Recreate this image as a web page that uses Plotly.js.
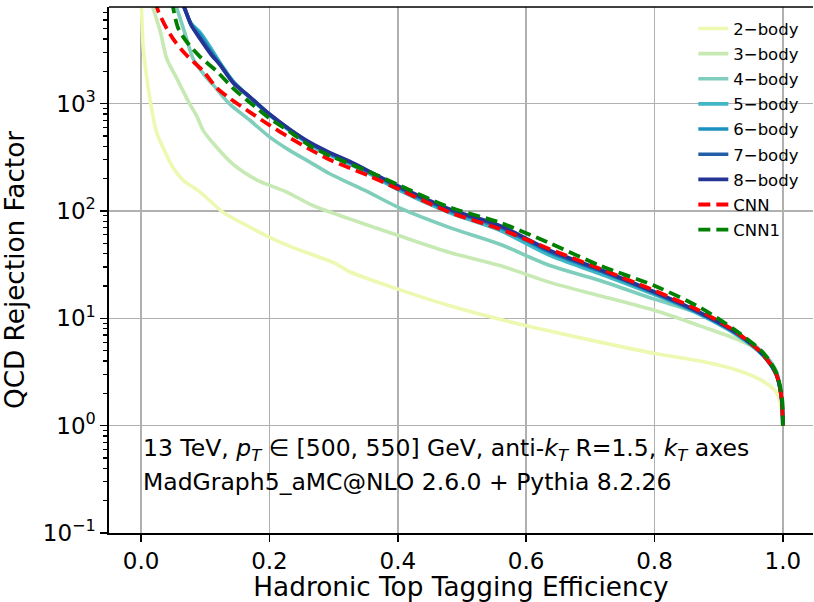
<!DOCTYPE html>
<html>
<head>
<meta charset="utf-8">
<script src="https://cdn.plot.ly/plotly-3.0.1.min.js"></script>
<style>html,body{margin:0;padding:0;background:#fff;}#chart{width:814px;height:602px;}</style>
</head>
<body>
<div id="chart"></div>
<script>
// ---- data ----
var names = ["2\u2212body","3\u2212body","4\u2212body","5\u2212body","6\u2212body","7\u2212body","8\u2212body","CNN","CNN1"];
var colors = ["#edf8b1","#c7e9b4","#7fcdbb","#41b6c4","#1d91c0","#225ea8","#253494","#ff0000","#008000"];

var eff2 = [0.0005,0.0035,0.014,0.024,0.035,0.048,0.066,0.092,0.128,0.165,0.2,0.237,0.3,0.326,0.4,0.481,0.559,0.637,0.715,0.801,0.871,0.928,0.969,0.99,0.999,1.0];
var rej2 = [9000,3250,1090,545,380,264,192,150,97,73,56.7,45.6,33,27,18.7,13.1,9.8,7.6,6.0,4.7,4.0,3.3,2.6,2.03,1.3,1.0];

var eff3 = [0.015,0.03,0.04,0.056,0.074,0.087,0.097,0.115,0.144,0.18,0.227,0.268,0.326,0.401,0.481,0.559,0.637,0.715,0.801,0.871,0.928,0.969,0.99,0.998,1.0];
var rej3 = [9000,4680,2630,1700,1040,760,560,409,270,195,150,112,84,59,41,31,21.6,16.2,11.8,8.5,6.4,4.8,3.1,1.8,1.0];

var eff4 = [0.052,0.058,0.07,0.081,0.1,0.113,0.128,0.139,0.17,0.2,0.232,0.263,0.294,0.326,0.352,0.401,0.481,0.559,0.637,0.715,0.801,0.871,0.928,0.969,0.99,0.998,1.0];
var rej4 = [9000,7000,4200,2630,1800,1480,1150,980,696,490,365,285,222,180,152,108,70,49,31,22.5,15,11,7.2,4.8,3.2,1.8,1.0];

var effBody = [0.063,0.068,0.078,0.092,0.11,0.123,0.144,0.17,0.2,0.232,0.263,0.294,0.326,0.357,0.401,0.481,0.559,0.637,0.715,0.801,0.871,0.928,0.969,0.99,0.998,1.0];
var rej5 = [9000,7600,5600,4600,3200,2400,1600,1130,780,555,415,332,272,220,157,96,66,38.5,26,16.5,10.8,7.0,4.5,2.95,1.8,1.0];
var rej6 = [9000,7600,5500,4400,3000,2350,1580,1140,790,565,425,340,280,226,163,100,70,41,27.5,17,11.1,7.2,4.55,3.0,1.8,1.0];
var rej7 = [9000,7700,5400,4100,2900,2300,1560,1140,795,570,430,346,285,230,167,102,72,42,28,17.3,11.2,7.25,4.6,3.0,1.8,1.0];
var rej8 = [9000,7700,5400,4000,2820,2300,1550,1150,800,575,435,350,288,232,170,104,73,43,28.5,17.5,11.3,7.3,4.6,3.0,1.8,1.0];

var effCNN = [0.022,0.027,0.04,0.053,0.071,0.097,0.118,0.139,0.17,0.2,0.232,0.263,0.294,0.326,0.357,0.401,0.481,0.559,0.637,0.715,0.801,0.871,0.928,0.969,0.99,0.998,1.0];
var rejCNN = [9000,7200,5000,3770,2820,2000,1400,1110,830,630,480,375,300,250,210,160,97,68,44,29,18,11.7,7.4,4.6,3.0,1.8,1.0];

var effCNN1 = [0.048,0.058,0.071,0.092,0.118,0.144,0.17,0.2,0.232,0.263,0.294,0.326,0.357,0.401,0.481,0.559,0.637,0.715,0.801,0.871,0.928,0.969,0.99,0.999,1.0];
var rejCNN1 = [9000,5000,3770,2730,2000,1380,1020,730,546,405,327,274,230,175,108,78,50,31,20,12.6,7.6,4.8,3.1,1.75,1.0];

var xTickVals = [0,0.2,0.4,0.6,0.8,1.0];
var xTickText = ["0.0","0.2","0.4","0.6","0.8","1.0"];
var yTickVals = [0.1,1,10,100,1000];
var yTickText = ["10<sup>\u22121</sup>","10<sup>0</sup>","10<sup>1</sup>","10<sup>2</sup>","10<sup>3</sup>"];
var line1 = "13 TeV, <i>p</i><sub><i>T</i></sub> \u2208 [500, 550] GeV, anti-<i>k</i><sub><i>T</i></sub> R=1.5, <i>k</i><sub><i>T</i></sub> axes";
var line2 = "MadGraph5_aMC@NLO 2.6.0 + Pythia 8.2.26";

// minor log ticks
var yMinor = [];
for (var d = -1; d < 4; d++) { for (var m = 2; m <= 9; m++) { yMinor.push(m * Math.pow(10, d)); } }

var xs = [eff2, eff3, eff4, effBody, effBody, effBody, effBody, effCNN, effCNN1];
var ys = [rej2, rej3, rej4, rej5, rej6, rej7, rej8, rejCNN, rejCNN1];

var traces = [];
for (var i = 0; i < names.length; i++) {
  var dashed = (i >= 7);
  traces.push({
    x: xs[i], y: ys[i], type: 'scatter', mode: 'lines', name: names[i],
    legendgroup: 'g' + i,
    line: {color: colors[i], width: dashed ? 3.8 : 3.6, dash: dashed ? '12px,6px' : 'solid', shape: 'spline', smoothing: 0.8}
  });
}

var FONT = "DejaVu Sans, sans-serif";
var layout = {
  width: 814, height: 602,
  margin: {l: 109, r: 1, t: 7, b: 69},
  paper_bgcolor: '#fff', plot_bgcolor: '#fff',
  font: {family: FONT, color: '#000', size: 23},
  showlegend: true,
  legend: {x: 0.83, y: 0.992, xanchor: 'left', yanchor: 'top', bgcolor: 'rgba(0,0,0,0)', borderwidth: 0,
           font: {family: FONT, size: 16.5, color: '#000'}, tracegroupgap: 0.7, traceorder: 'grouped'},
  xaxis: {
    range: [-0.05, 1.047], tickmode: 'array', tickvals: xTickVals, ticktext: xTickText,
    showgrid: true, gridcolor: '#b0b0b0', gridwidth: 1.5, zeroline: false,
    showline: true, linecolor: '#000', linewidth: 1.6, mirror: false,
    ticks: 'outside', ticklen: 7, tickwidth: 1.5, tickcolor: '#000',
    tickfont: {family: FONT, size: 23, color: '#000'},
    title: {text: 'Hadronic Top Tagging Efficiency', font: {family: FONT, size: 26.3, color: '#000'}, standoff: 8}
  },
  yaxis: {
    type: 'log', range: [-1, 3.9], tickmode: 'array', tickvals: yTickVals, ticktext: yTickText,
    showgrid: true, gridcolor: '#b0b0b0', gridwidth: 1.5, zeroline: false,
    showline: true, linecolor: '#000', linewidth: 1.6, mirror: false,
    ticks: 'outside', ticklen: 7, tickwidth: 1.5, tickcolor: '#000',
    tickfont: {family: FONT, size: 23, color: '#000'},
    minor: {tickmode: 'array', tickvals: yMinor, ticks: 'outside', ticklen: 4, tickwidth: 1.2, tickcolor: '#000', showgrid: false},
    title: {text: 'QCD Rejection Factor', font: {family: FONT, size: 26.3, color: '#000'}, standoff: 12}
  },
  shapes: [{type: 'line', xref: 'paper', yref: 'paper', x0: 0, x1: 1, y0: 1, y1: 1, line: {color: '#000', width: 1.6}}],
  annotations: [
    {xref: 'x', yref: 'paper', x: 0, y: 0.158, xanchor: 'left', yanchor: 'middle', showarrow: false, text: line1, font: {family: FONT, size: 23.5, color: '#000'}},
    {xref: 'x', yref: 'paper', x: 0, y: 0.097, xanchor: 'left', yanchor: 'middle', showarrow: false, text: line2, font: {family: FONT, size: 23.5, color: '#000'}}
  ]
};

Plotly.newPlot('chart', traces, layout, {displayModeBar: false, staticPlot: true});
</script>
</body>
</html>
